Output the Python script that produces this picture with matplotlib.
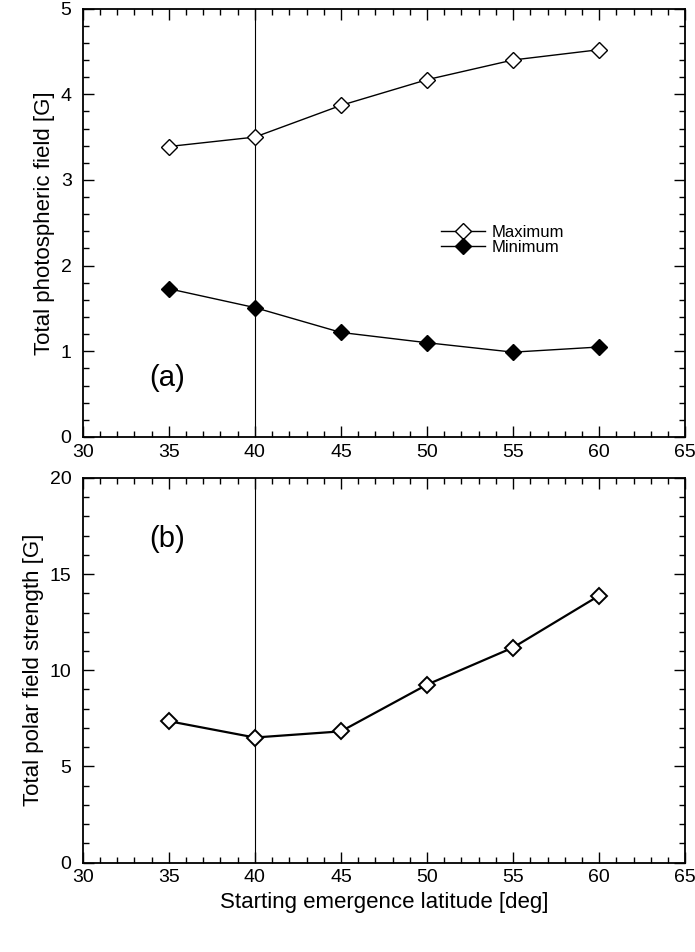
import numpy as np
import matplotlib.pyplot as plt
from matplotlib.ticker import MultipleLocator

plt.rcParams['font.family'] = ['Liberation Sans', 'DejaVu Sans']

lat = [35, 40, 45, 50, 55, 60]
field_max = [3.39, 3.50, 3.87, 4.17, 4.40, 4.52]
field_min = [1.73, 1.51, 1.22, 1.10, 0.99, 1.05]
polar = [7.35, 6.50, 6.82, 9.25, 11.18, 13.88]

fig = plt.figure(figsize=(6.95, 9.52), dpi=100)
ax1 = fig.add_axes([0.119, 0.541, 0.867, 0.45])
ax2 = fig.add_axes([0.119, 0.094, 0.867, 0.404])

def style(ax, ymax, ymajor, yminor):
    ax.set_xlim(30, 65)
    ax.set_ylim(0, ymax)
    ax.xaxis.set_major_locator(MultipleLocator(5))
    ax.xaxis.set_minor_locator(MultipleLocator(1))
    ax.yaxis.set_major_locator(MultipleLocator(ymajor))
    ax.yaxis.set_minor_locator(MultipleLocator(yminor))
    ax.tick_params(which='both', direction='in', top=True, right=True, labelsize=14, width=1)
    ax.tick_params(axis='y', pad=8)
    ax.tick_params(axis='x', pad=5)
    ax.tick_params(which='major', length=8)
    ax.tick_params(which='minor', length=4)
    for s in ax.spines.values():
        s.set_linewidth(1.3)
    ax.axvline(40, color='k', lw=0.8)

style(ax1, 5, 1, 0.2)
ax1.plot(lat, field_max, 'k-', marker='D', mfc='white', mec='k', ms=8, lw=1, label='Maximum')
ax1.plot(lat, field_min, 'k-', marker='D', mfc='k', mec='k', ms=8, lw=1, label='Minimum')
ax1.set_ylabel('Total photospheric field [G]', fontsize=16)
ax1.text(0.11, 0.12, '(a)', transform=ax1.transAxes, fontsize=21)
ax1.legend(loc='center left', bbox_to_anchor=(0.57, 0.46), frameon=False, fontsize=12,
           handlelength=2.6, handletextpad=0.4, labelspacing=0.0)

style(ax2, 20, 5, 1)
ax2.plot(lat, polar, 'k-', marker='D', mfc='white', mec='k', ms=8, lw=1.6, mew=1.4)
ax2.set_ylabel('Total polar field strength [G]', fontsize=16)
ax2.set_xlabel('Starting emergence latitude [deg]', fontsize=16)
ax2.text(0.11, 0.82, '(b)', transform=ax2.transAxes, fontsize=21)

fig.savefig('out.png')
